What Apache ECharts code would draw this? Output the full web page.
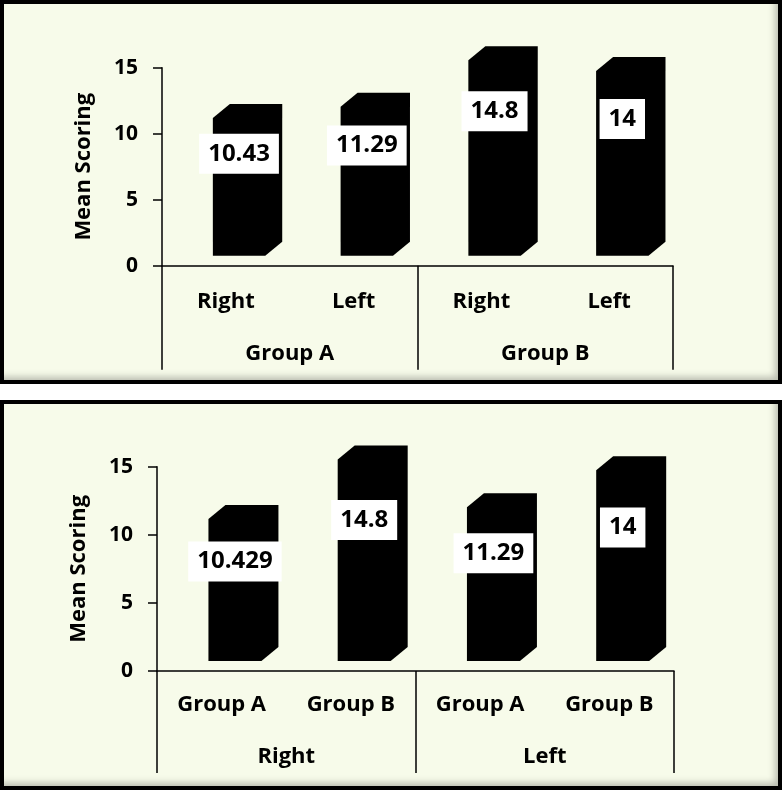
<!DOCTYPE html>
<html>
<head>
<meta charset="utf-8">
<script src="https://cdn.jsdelivr.net/npm/echarts@6/dist/echarts.min.js"></script>
<style>
  body { margin: 0; background: #fff; }
  .panel {
    position: absolute; left: 0; width: 782px; box-sizing: border-box;
    border: 4px solid #000; background: #f7fbea;
    box-shadow: inset -7px -7px 7px -4px rgba(0, 0, 0, 0.25);
  }
  .chart { position: absolute; left: 0; top: 0; right: 0; bottom: 0; }
</style>
</head>
<body>
<div class="panel" style="top: 0; height: 384px;"><div id="top" class="chart"></div></div>
<div class="panel" style="top: 400px; height: 390px;"><div id="bottom" class="chart"></div></div>
<script>
// data
var yTicks = [0, 5, 10, 15];
var topSides = ["Right", "Left", "Right", "Left"];
var topGroups = ["Group A", "Group B"];
var topValues = [10.43, 11.29, 14.8, 14];

var bottomGroups = ["Group A", "Group B", "Group A", "Group B"];
var bottomSides = ["Right", "Left"];
var bottomValues = [10.429, 14.8, 11.29, 14];

var FONT = '"Open Sans", "DejaVu Sans", sans-serif';

// flat black 3D column: front face + top/side in one polygon
function makeRender(labelPos) {
  return function (params, api) {
    var idx = api.value(0);
    var base = api.coord([idx, 0]);
    var top = api.coord([idx, api.value(1)]);
    var band = api.size([1, 0])[0];
    var w = band * 0.41;
    var x0 = base[0] + band * 0.103 - w / 2;
    var x1 = x0 + w;
    var yb = base[1] - 10;
    var yt = top[1] - 10;
    var dx = 17, dy = 14;
    return {
      type: "group",
      children: [
        {
          type: "polygon",
          shape: {
            points: [[x0, yt], [x0 + dx, yt - dy], [x1 + dx, yt - dy],
                     [x1 + dx, yb - dy], [x1, yb], [x0, yb]]
          },
          style: { fill: "#000" }
        },
        {
          type: "text",
          x: (x0 + x1) / 2,
          y: yt + (yb - yt) * labelPos,
          style: {
            text: String(api.value(1)),
            fill: "#000",
            fontSize: 24,
            fontWeight: "bold",
            fontFamily: FONT,
            align: "center",
            verticalAlign: "middle",
            backgroundColor: "#fff",
            padding: [8, 9]
          }
        }
      ]
    };
  };
}

function buildOption(cats, groups, values, grid, labelPos, subMargin, groupMargin, tickLen) {
  return {
    textStyle: { fontFamily: FONT },
    grid: grid,
    xAxis: [
      {
        type: "category",
        data: cats,
        position: "bottom",
        axisLine: { show: true, lineStyle: { color: "#000", width: 1.5 } },
        axisTick: { show: false },
        axisLabel: {
          margin: subMargin, verticalAlign: "middle",
          color: "#000", fontSize: 22, fontWeight: "bold", fontFamily: FONT
        }
      },
      {
        type: "category",
        data: groups,
        position: "bottom",
        axisLine: { show: false },
        axisTick: { show: true, length: tickLen, lineStyle: { color: "#000", width: 1.5 } },
        axisLabel: {
          margin: groupMargin, verticalAlign: "middle",
          color: "#000", fontSize: 22, fontWeight: "bold", fontFamily: FONT
        }
      }
    ],
    yAxis: {
      type: "value",
      min: yTicks[0],
      max: yTicks[yTicks.length - 1],
      interval: yTicks[1] - yTicks[0],
      name: "Mean Scoring",
      nameLocation: "middle",
      nameGap: 67,
      nameTextStyle: { color: "#000", fontSize: 22, fontWeight: "bold", fontFamily: FONT },
      axisLine: { show: true, lineStyle: { color: "#000", width: 1.5 } },
      axisTick: { show: true, length: 9, lineStyle: { color: "#000", width: 1.5 } },
      splitLine: { show: false },
      axisLabel: { margin: 24, color: "#000", fontSize: 21, fontWeight: "bold", fontFamily: FONT }
    },
    series: [
      {
        type: "custom",
        renderItem: makeRender(labelPos),
        encode: { x: 0, y: 1 },
        clip: false,
        data: values.map(function (v, i) { return [i, v]; })
      }
    ]
  };
}

var topChart = echarts.init(document.getElementById("top"));
topChart.setOption(buildOption(topSides, topGroups, topValues,
  { left: 158, right: 105, top: 63.7, bottom: 114.3 }, 0.26, 36, 88, 104));

var bottomChart = echarts.init(document.getElementById("bottom"));
bottomChart.setOption(buildOption(bottomGroups, bottomSides, bottomValues,
  { left: 153, right: 104, top: 62.7, bottom: 115 }, 0.3, 34, 86, 102));
</script>
</body>
</html>
